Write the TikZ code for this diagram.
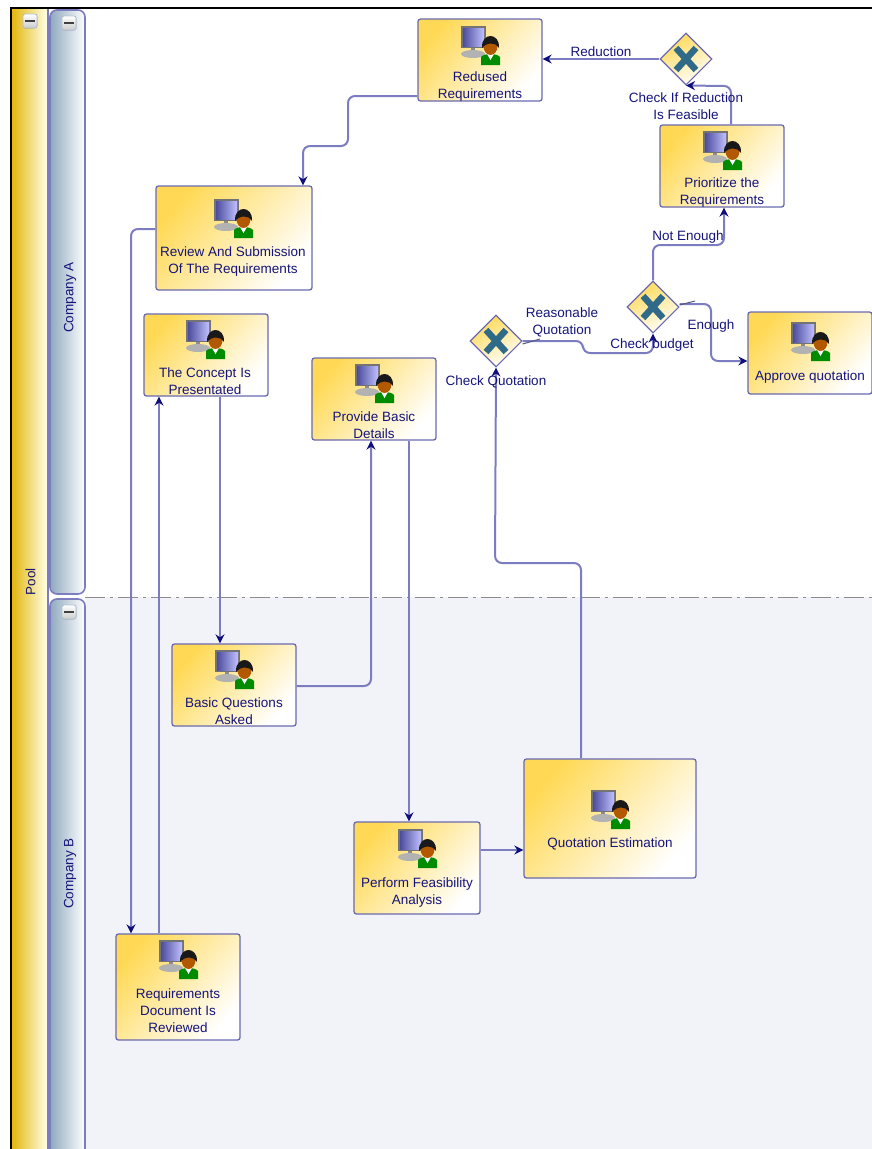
\documentclass[tikz,border=0pt]{standalone}
\usepackage{fontspec}
\setmainfont{Liberation Sans}
\usetikzlibrary{arrows.meta,shapes.geometric}
\definecolor{edgeblue}{HTML}{7C7CC0}
\definecolor{tipblue}{HTML}{10107C}
\definecolor{textblue}{HTML}{14147A}
\definecolor{boxline}{HTML}{6A6AB0}
\definecolor{taskyellow}{HTML}{FFD955}
\definecolor{poolyellow}{HTML}{E3B70F}
\definecolor{lanesteel}{HTML}{8FA9BF}
\definecolor{lanegrey}{HTML}{F2F3F8}
\definecolor{xteal}{HTML}{2F6A88}
\tikzset{
	taskbox/.style={draw=boxline, line width=1.3pt, rounded corners=2.5pt, top color=taskyellow, bottom color=white, shading angle=50, inner sep=0pt},
	tasktext/.style={text=textblue, align=center, font=\fontsize{13.5}{17}\selectfont, inner sep=0pt, yshift=-1.5pt},
	gatebox/.style={diamond, draw=boxline, line width=1.1pt, top color=taskyellow, bottom color=white, shading angle=30, minimum size=52pt, inner sep=0pt},
	flow/.style={draw=edgeblue, line width=2pt, rounded corners=7pt, -{Stealth[color=tipblue,length=9pt,width=9pt]}},
	tick/.style={draw=edgeblue!70!black, line width=1pt},
	lanebox/.style={draw=edgeblue, line width=1.6pt, rounded corners=7pt, left color=lanesteel, right color=white, inner sep=0pt},
	usericon/.pic={
		\fill[black!55] (-19,-19) rectangle (6,3);
		\fill[left color=blue!45!black!70, right color=blue!25!white] (-17,-17) rectangle (4,1);
		\fill[black!45] (-9,3) rectangle (-5,7);
		\fill[black!30] (-7,9) ellipse (12 and 4);
		\fill[green!55!black] (1,20) -- (1,12) .. controls (4,8) and (17,8) .. (20,12) -- (20,20) -- cycle;
		\fill[white] (7,9) -- (14,9) -- (10.5,15) -- cycle;
		\fill[orange!70!black] (10.5,1) ellipse (7 and 9);
		\fill[black!90] (2,3) .. controls (1,-13) and (20,-13) .. (19,3) .. controls (16,-3) and (7,-3) .. (2,3) -- cycle;
	},
	minusbutton/.pic={
		\fill[top color=white, bottom color=black!20, draw=lanesteel!70, rounded corners=2pt, line width=0.8pt] (-7,-7) rectangle (7,7);
		\fill[black!75] (-5,-1.5) rectangle (5,1);
	},
}
\begin{document}
\begin{tikzpicture}[x=1pt,y=-1pt]
	\newcommand\Task[5]{\node[taskbox, minimum width=#4pt, minimum height=#5pt] (#1) at (#2,#3) {};}
	\useasboundingbox (0,0) rectangle (872,1149);

	% lanes
	\fill[lanegrey] (85,597) rectangle (872,1149);
	\draw[black!45, line width=1pt, dash pattern=on 20pt off 5pt on 3pt off 5pt] (85,597) -- (872,597);
	\fill[black] (10,7) rectangle (872,9);
	\fill[black] (10,7) rectangle (12,1149);
	\shade[left color=poolyellow, right color=white!90!yellow] (12,9) rectangle (47,1149);
	\fill[edgeblue] (47,9) rectangle (49,1149);
	\node[lanebox, minimum width=35pt, minimum height=584pt] (companyA) at (67.5,302) {};
	\path[lanebox] (50,1155) -- (50,599) -- (85,599) -- (85,1155);
	\node[tasktext, rotate=90] (poolname) at (30.5,580) {Pool};
	\node[tasktext, rotate=90] (companyAname) at (70,296) {Company A};
	\node[tasktext, rotate=90] (companyBname) at (70,872) {Company B};
	\pic at (30,21) {minusbutton};
	\pic at (69,23) {minusbutton};
	\pic at (69,612) {minusbutton};

	% tasks
	\Task{redused}{480}{60}{124}{82}
	\Task{review}{234}{238}{156}{104}
	\Task{prioritize}{722}{166}{124}{82}
	\Task{concept}{206}{355}{124}{82}
	\Task{details}{374}{399}{124}{82}
	\Task{approve}{810}{353}{124}{82}
	\Task{questions}{234}{685}{124}{82}
	\Task{feasibility}{417}{868}{126}{92}
	\Task{estimation}{610}{818.5}{172}{119}
	\Task{reqdoc}{178}{987}{124}{106}

	\pic at (480,45) {usericon};
	\pic at (233,218) {usericon};
	\pic at (722,150) {usericon};
	\pic at (205,339) {usericon};
	\pic at (374,383) {usericon};
	\pic at (810,341) {usericon};
	\pic at (234,669) {usericon};
	\pic at (417,848) {usericon};
	\pic at (610,809) {usericon};
	\pic at (178,959) {usericon};

	% gateways
	\node[gatebox] (gateReduction) at (686,59) {};
	\node[gatebox] (gateBudget) at (653,307) {};
	\node[gatebox] (gateQuotation) at (496,341) {};
	\foreach \g in {gateReduction,gateBudget,gateQuotation} {
		\draw[xteal, line width=6.5pt] (\g.center) +(-10,-11) -- +(10,11);
		\draw[xteal, line width=6.5pt] (\g.center) +(10,-11) -- +(-10,11);
	}

	% connectors
	\draw[flow] (redused.west |- 0,96) -- (348,96) -- (348,146) -- (303,146) -- (review.north -| 303,0);
	\draw[flow] (gateReduction.west) -- (redused.east |- gateReduction.west);
	\draw[flow] (prioritize.north -| 731,0) -- (731,86) -- (gateReduction.south);
	\draw[flow] (gateBudget.north) -- (653,245) -- (724,245) -- (prioritize.south -| 724,0);
	\draw[flow] (gateBudget.east |- 0,304) -- (711,304) -- (711,361) -- (approve.west |- 0,361);
	\draw[tick] (gateBudget.east |- 0,305) -- (695,301);
	\draw[flow] (gateQuotation.east) -- (583,341) -- (583,353) -- (653,353) -- (gateBudget.south);
	\draw[tick] (gateQuotation.east |- 0,344) -- (540,339);
	\draw[flow] (estimation.north -| 581,0) -- (581,563) -- (495,563) -- (gateQuotation.south);
	\draw[flow] (feasibility.east |- 0,850) -- (estimation.west |- 0,850);
	\draw[flow] (details.south -| 409,0) -- (feasibility.north -| 409,0);
	\draw[flow] (questions.east |- 0,686) -- (371,686) -- (details.south -| 371,0);
	\draw[flow] (concept.south -| 220,0) -- (questions.north -| 220,0);
	\draw[flow] (reqdoc.north -| 159,0) -- (concept.south -| 159,0);
	\draw[flow] (review.west |- 0,229) -- (131,229) -- (reqdoc.north -| 131,0);

	% texts
	\node[tasktext] (redusedtext) at (480,85.5) {Redused\\Requirements};
	\node[tasktext] (reviewtext) at (233,260.5) {Review And Submission\\Of The Requirements};
	\node[tasktext] (prioritizetext) at (722,191.5) {Prioritize the\\Requirements};
	\node[tasktext] (concepttext) at (205,380) {The Concept Is\\Presentated};
	\node[tasktext] (detailstext) at (374,424) {Provide Basic\\Details};
	\node[tasktext] (approvetext) at (810,376) {Approve quotation};
	\node[tasktext] (questionstext) at (234,710) {Basic Questions\\Asked};
	\node[tasktext] (feasibilitytext) at (417,891) {Perform Feasibility\\Analysis};
	\node[tasktext] (estimationtext) at (610,842) {Quotation Estimation};
	\node[tasktext] (reqdoctext) at (178,1009) {Requirements\\Document Is\\Reviewed};
	\node[tasktext] (reductionlabel) at (601,50) {Reduction};
	\node[tasktext] (gateReductionlabel) at (686,104.5) {Check If Reduction\\Is Feasible};
	\node[tasktext] (notenoughlabel) at (688,236) {Not Enough};
	\node[tasktext] (enoughlabel) at (711,325) {Enough};
	\node[tasktext] (gateBudgetlabel) at (652,344) {Check budget};
	\node[tasktext] (reasonablelabel) at (562,320.5) {Reasonable\\Quotation};
	\node[tasktext] (gateQuotationlabel) at (496,380) {Check Quotation};
\end{tikzpicture}
\end{document}
